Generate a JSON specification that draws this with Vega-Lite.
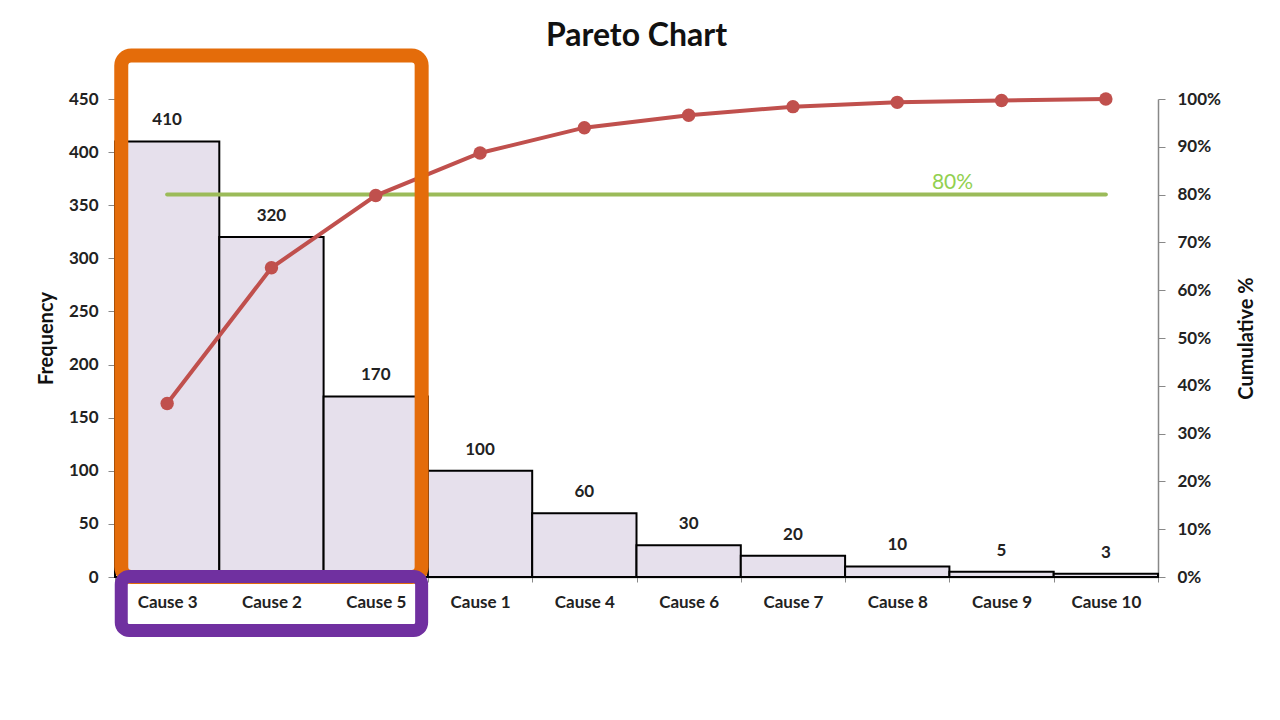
{
  "$schema": "https://vega.github.io/schema/vega-lite/v6.json",
  "width": 1043,
  "height": 478,
  "autosize": {"type": "none"},
  "padding": {"left": 115, "top": 99, "right": 122, "bottom": 143},
  "background": "white",
  "title": {"text": "Pareto Chart", "font": "Lato", "fontSize": 32, "fontWeight": "bold", "color": "#111111", "anchor": "middle", "frame": "group", "offset": -5},
  "config": {"view": {"stroke": null}, "font": "Lato"},
  "datasets": {
    "pareto": [
      {"cause": "Cause 3", "freq": 410, "cum": 0.363},
      {"cause": "Cause 2", "freq": 320, "cum": 0.647},
      {"cause": "Cause 5", "freq": 170, "cum": 0.798},
      {"cause": "Cause 1", "freq": 100, "cum": 0.887},
      {"cause": "Cause 4", "freq": 60, "cum": 0.940},
      {"cause": "Cause 6", "freq": 30, "cum": 0.966},
      {"cause": "Cause 7", "freq": 20, "cum": 0.984},
      {"cause": "Cause 8", "freq": 10, "cum": 0.993},
      {"cause": "Cause 9", "freq": 5, "cum": 0.997},
      {"cause": "Cause 10", "freq": 3, "cum": 1.0}
    ],
    "target": [
      {"cause": "Cause 3", "v": 0.8},
      {"cause": "Cause 10", "v": 0.8}
    ],
    "targetLabel": [
      {"pos": 8.03, "v": 0.8, "label": "80%"}
    ]
  },
  "resolve": {"scale": {"x": "independent", "y": "independent"}},
  "layer": [
    {
      "data": {"name": "pareto"},
      "mark": {"type": "bar", "fill": "#E6E0EC", "stroke": "#000000", "strokeWidth": 2},
      "encoding": {
        "x": {"field": "cause", "type": "nominal", "sort": null,
          "scale": {"domain": ["Cause 3","Cause 2","Cause 5","Cause 1","Cause 4","Cause 6","Cause 7","Cause 8","Cause 9","Cause 10"], "paddingInner": 0, "paddingOuter": 0},
          "axis": {"title": null, "labelAngle": 0, "labelFont": "Lato", "labelFontSize": 17, "labelFontWeight": "bold", "labelColor": "#222222", "domainColor": "#888888", "domainWidth": 1.5, "tickColor": "#888888", "tickSize": 5, "tickBand": "extent", "labelPadding": 12, "orient": "bottom"}},
        "y": {"field": "freq", "type": "quantitative",
          "scale": {"domain": [0, 450], "nice": false},
          "axis": {"orient": "left", "title": "Frequency", "values": [0,50,100,150,200,250,300,350,400,450], "grid": false, "labelFont": "Lato", "labelFontSize": 17, "labelFontWeight": "bold", "labelColor": "#222222", "domainColor": "#888888", "tickColor": "#888888", "tickSize": 7, "labelPadding": 10, "titleFont": "Lato", "titleFontSize": 20, "titleFontWeight": "bold", "titleColor": "#111111", "titlePadding": 12}}
      }
    },
    {
      "data": {"name": "target"},
      "mark": {"type": "line", "color": "#9BBB59", "strokeWidth": 4, "strokeCap": "round"},
      "encoding": {
        "x": {"field": "cause", "type": "nominal", "sort": null,
          "scale": {"domain": ["Cause 3","Cause 2","Cause 5","Cause 1","Cause 4","Cause 6","Cause 7","Cause 8","Cause 9","Cause 10"], "paddingInner": 0, "paddingOuter": 0}, "axis": null},
        "y": {"field": "v", "type": "quantitative", "scale": {"domain": [0, 1], "nice": false}, "axis": null}
      }
    },
    {
      "data": {"name": "pareto"},
      "mark": {"type": "line", "color": "#C0504D", "strokeWidth": 4},
      "encoding": {
        "x": {"field": "cause", "type": "nominal", "sort": null,
          "scale": {"domain": ["Cause 3","Cause 2","Cause 5","Cause 1","Cause 4","Cause 6","Cause 7","Cause 8","Cause 9","Cause 10"], "paddingInner": 0, "paddingOuter": 0}, "axis": null},
        "y": {"field": "cum", "type": "quantitative", "scale": {"domain": [0, 1], "nice": false},
          "axis": {"orient": "right", "title": "Cumulative %", "format": "~%", "values": [0,0.1,0.2,0.3,0.4,0.5,0.6,0.7,0.8,0.9,1], "grid": false, "labelFont": "Lato", "labelFontSize": 17, "labelFontWeight": "bold", "labelColor": "#222222", "domainColor": "#888888", "domainWidth": 1.5, "tickColor": "#888888", "tickSize": 7, "labelPadding": 12, "titleFont": "Lato", "titleFontSize": 20, "titleFontWeight": "bold", "titleColor": "#111111", "titlePadding": 36, "titleAngle": 270}}
      }
    },
    {
      "data": {"name": "pareto"},
      "mark": {"type": "point", "filled": true, "color": "#C0504D", "size": 180, "opacity": 1},
      "encoding": {
        "x": {"field": "cause", "type": "nominal", "sort": null,
          "scale": {"domain": ["Cause 3","Cause 2","Cause 5","Cause 1","Cause 4","Cause 6","Cause 7","Cause 8","Cause 9","Cause 10"], "paddingInner": 0, "paddingOuter": 0}, "axis": null},
        "y": {"field": "cum", "type": "quantitative", "scale": {"domain": [0, 1], "nice": false}, "axis": null}
      }
    },
    {
      "data": {"name": "targetLabel"},
      "mark": {"type": "text", "color": "#92D050", "fontSize": 21, "font": "Lato", "baseline": "bottom", "dy": -2},
      "encoding": {
        "x": {"field": "pos", "type": "quantitative", "scale": {"domain": [0, 10], "nice": false, "zero": false}, "axis": null},
        "y": {"field": "v", "type": "quantitative", "scale": {"domain": [0, 1], "nice": false}, "axis": null},
        "text": {"field": "label"}
      }
    },
    {
      "data": {"name": "pareto"},
      "mark": {"type": "text", "color": "#222222", "fontSize": 17, "fontWeight": "bold", "font": "Lato", "baseline": "bottom", "dy": -12},
      "encoding": {
        "x": {"field": "cause", "type": "nominal", "sort": null,
          "scale": {"domain": ["Cause 3","Cause 2","Cause 5","Cause 1","Cause 4","Cause 6","Cause 7","Cause 8","Cause 9","Cause 10"], "paddingInner": 0, "paddingOuter": 0}, "axis": null},
        "y": {"field": "freq", "type": "quantitative", "scale": {"domain": [0, 450], "nice": false}, "axis": null},
        "text": {"field": "freq"}
      }
    },
    {
      "data": {"values": [{"box": "focus"}]},
      "mark": {"type": "rect", "fill": "transparent", "stroke": "#E46C0A", "strokeWidth": 14, "cornerRadius": 10, "clip": false},
      "encoding": {
        "x": {"datum": 0.06, "type": "quantitative", "scale": {"domain": [0, 10], "nice": false, "zero": false}, "axis": null},
        "x2": {"datum": 2.94},
        "y": {"datum": 491, "type": "quantitative", "scale": {"domain": [0, 450], "nice": false}, "axis": null},
        "y2": {"datum": 0}
      }
    },
    {
      "data": {"values": [{"box": "labels"}]},
      "mark": {"type": "rect", "fill": "transparent", "stroke": "#7030A0", "strokeWidth": 13, "cornerRadius": 8, "clip": false},
      "encoding": {
        "x": {"datum": 0.06, "type": "quantitative", "scale": {"domain": [0, 10], "nice": false, "zero": false}, "axis": null},
        "x2": {"datum": 2.94},
        "y": {"datum": 0.5, "type": "quantitative", "scale": {"domain": [0, 450], "nice": false}, "axis": null},
        "y2": {"datum": -50.4}
      }
    }
  ]
}
